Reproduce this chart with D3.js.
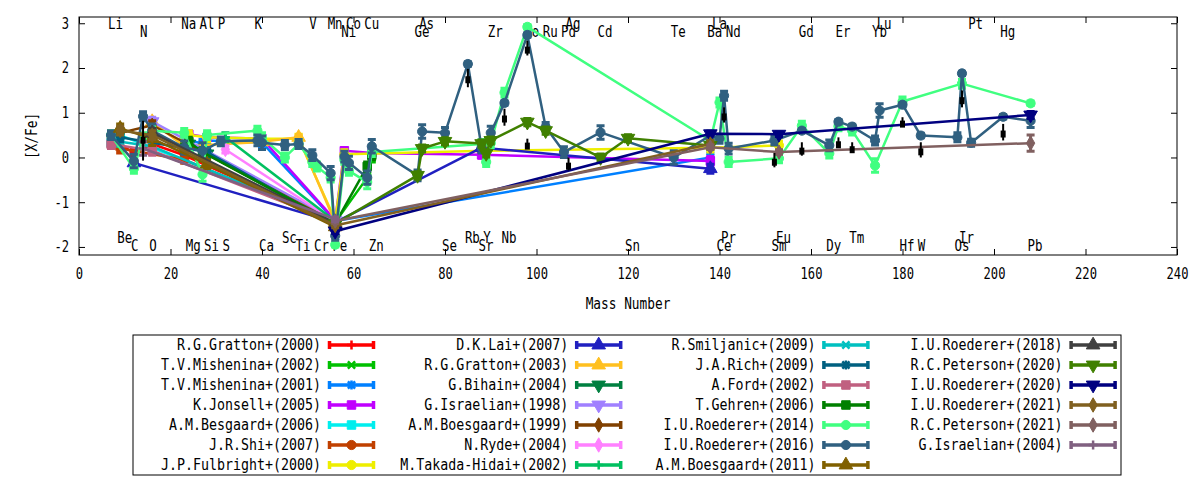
<!DOCTYPE html>
<html>
<head>
<meta charset="utf-8">
<script src="https://cdn.jsdelivr.net/npm/d3@7"></script>
<style>body{margin:0;background:#fff}</style>
</head>
<body>
<div class="chart"></div>
<script>
// element labels (isotope mass used on the x axis)
const elementNames  = ["Li","Be","C","N","O","Na","Mg","Al","Si","P","S","K","Ca","Sc","Ti","V","Cr","Mn","Fe","Co","Ni","Cu","Zn",
  "Ge","As","Se","Rb","Sr","Y","Zr","Nb","Mo","Ru","Pd","Ag","Cd","Sn","Te","Ba","La","Ce","Pr","Nd","Sm","Eu","Gd","Dy","Er","Tm","Yb","Lu",
  "Hf","W","Os","Ir","Pt","Hg","Pb"];
const elementMasses = [7,9,12,14,16,23,24,27,28,31,32,39,40,45,48,51,52,55,56,59,58,63,64,
  74,75,80,85,88,89,90,93,98,102,106,107,114,120,130,138,139,140,141,142,152,153,158,164,166,169,174,175,
  180,184,192,193,195,202,208];
const elementRows   = [0,2,3,1,3,0,3,0,3,0,3,0,3,2,3,0,3,0,3,0,1,0,3,
  1,0,3,2,3,2,1,2,1,1,1,0,1,3,1,1,0,3,2,1,3,2,1,3,1,2,1,0,
  3,3,3,2,0,1,3];
const rowValues = [3.0, 2.82, -1.8, -1.98];

const studies = ["R.G.Gratton+(2000)","T.V.Mishenina+(2002)","T.V.Mishenina+(2001)","K.Jonsell+(2005)","A.M.Besgaard+(2006)",
  "J.R.Shi+(2007)","J.P.Fulbright+(2000)","D.K.Lai+(2007)","R.G.Gratton+(2003)","G.Bihain+(2004)","G.Israelian+(1998)",
  "A.M.Boesgaard+(1999)","N.Ryde+(2004)","M.Takada-Hidai+(2002)","R.Smiljanic+(2009)","J.A.Rich+(2009)","A.Ford+(2002)",
  "T.Gehren+(2006)","I.U.Roederer+(2014)","I.U.Roederer+(2016)","A.M.Boesgaard+(2011)","I.U.Roederer+(2018)",
  "R.C.Peterson+(2020)","I.U.Roederer+(2020)","I.U.Roederer+(2021)","R.C.Peterson+(2021)","G.Israelian+(2004)"];

// [mass, [X/Fe], error]
const gratton2000 = [[7,0.42,0.05],[12,0.1,0.08],[16,0.3,0.08],[23,0.05,0.1],[56,-1.47,0.05]];
const mishenina2002 = [[56,-1.45,0.05],[63,-0.45,0.1],[64,0.0,0.1]];
const mishenina2001 = [[24,0.4,0.1],[27,0.3,0.1],[28,0.38,0.1],[40,0.33,0.1],[56,-1.42,0.05],[138,0.0,0.1]];
const jonsell2005 = [[24,0.52,0.05],[28,0.45,0.05],[40,0.42,0.05],[56,-1.4,0.05],[58,0.15,0.05],[64,0.1,0.05],[88,0.06,0.08],[138,-0.08,0.1]];
const besgaard2006 = [[7,0.33,0.08],[9,0.5,0.12],[56,-1.4,0.05]];
const shi2007 = [[9,0.2,0.1],[23,-0.05,0.08],[56,-1.47,0.05]];
const fulbright2000 = [[23,0.45,0.1],[24,0.5,0.1],[28,0.45,0.1],[40,0.42,0.1],[48,0.42,0.1],[56,-1.4,0.05],[58,0.07,0.1],[89,0.15,0.1],[138,0.22,0.1],[153,0.27,0.1]];
const lai2007 = [[12,-0.12,0.1],[56,-1.45,0.05],[88,0.22,0.1],[138,-0.25,0.1]];
const gratton2003 = [[16,0.8,0.05],[23,0.25,0.05],[40,0.35,0.05],[48,0.45,0.05],[56,-1.45,0.05]];
const bihain2004 = [[24,0.3,0.08],[28,0.08,0.08],[56,-1.5,0.05]];
const israelian1998 = [[16,0.8,0.1],[56,-1.4,0.05]];
const boesgaard1999 = [[9,0.55,0.1],[16,0.72,0.1],[56,-1.45,0.05]];
const ryde2004 = [[32,0.18,0.08],[56,-1.43,0.05]];
const takadaHidai2002 = [[32,0.45,0.1],[56,-1.42,0.05]];
const smiljanic2009 = [[9,0.35,0.1],[16,0.25,0.1],[56,-1.45,0.05]];
const rich2009 = [[9,0.45,0.1],[28,0.12,0.1],[56,-1.5,0.05]];
const ford2002 = [[7,0.3,0.1],[16,0.15,0.1],[56,-1.45,0.05]];
const gehren2006 = [[23,0.2,0.1],[24,0.35,0.1],[27,0.12,0.1],[56,-1.48,0.05],[63,-0.2,0.1],[64,0.05,0.1]];
const roederer2014 = [[7,0.5,0.1],[12,-0.25,0.1],[14,0.45,0.1],[16,0.6,0.1],[23,0.55,0.1],[27,-0.38,0.15],[28,0.5,0.1],
  [39,0.6,0.1],[40,0.45,0.1],[45,0.0,0.1],[48,0.3,0.1],[51,-0.1,0.1],[52,-0.2,0.1],[55,-0.45,0.1],[56,-1.95,0.05],
  [58,-0.05,0.1],[59,-0.3,0.1],[63,-0.55,0.15],[64,0.12,0.1],[88,0.3,0.1],[89,-0.1,0.1],[90,0.32,0.1],[93,1.45,0.1],
  [98,2.92,0.05],[138,0.38,0.1],[140,1.23,0.1],[142,-0.1,0.1],[153,-0.02,0.1],[158,0.71,0.1],[164,0.09,0.1],
  [166,0.7,0.1],[169,0.6,0.1],[174,-0.18,0.15],[180,1.25,0.1],[193,1.65,0.1],[208,1.21,0.05]];
const roederer2016 = [[7,0.5,0.1],[12,-0.08,0.15],[14,0.92,0.1],[16,0.6,0.15],[23,0.22,0.15],[27,0.15,0.18],[31,0.36,0.1],
  [39,0.38,0.12],[40,0.33,0.15],[45,0.28,0.1],[48,0.3,0.1],[51,0.05,0.12],[55,-0.35,0.15],[56,-1.75,0.1],[58,0.02,0.12],
  [59,-0.12,0.15],[63,-0.45,0.15],[64,0.25,0.15],[74,-0.4,0.12],[75,0.58,0.15],[80,0.55,0.12],[85,2.09,0.05],
  [88,0.22,0.12],[90,0.55,0.15],[93,1.22,0.05],[98,2.74,0.05],[102,0.68,0.1],[106,0.12,0.12],[114,0.56,0.15],
  [130,0.0,0.15],[138,0.49,0.1],[140,0.42,0.1],[141,1.38,0.1],[142,0.2,0.12],[152,0.38,0.1],[158,0.6,0.05],
  [164,0.27,0.12],[166,0.8,0.05],[169,0.69,0.05],[174,0.38,0.1],[175,1.05,0.15],[180,1.18,0.05],[184,0.49,0.05],
  [192,0.45,0.1],[193,1.88,0.05],[195,0.33,0.08],[202,0.91,0.05],[208,0.82,0.15]];
const boesgaard2011 = [[9,0.65,0.1],[16,0.42,0.15],[28,-0.15,0.1],[56,-1.55,0.08]];
const roederer2018 = [[16,0.55,0.1],[56,-1.48,0.05]];
const peterson2020 = [[56,-1.48,0.05],[74,-0.4,0.08],[75,0.2,0.08],[80,0.36,0.08],[88,0.31,0.08],[89,0.09,0.08],
  [90,0.38,0.08],[98,0.79,0.08],[102,0.6,0.08],[114,0.0,0.08],[120,0.43,0.08],[138,0.27,0.08]];
const roederer2020 = [[56,-1.65,0.05],[138,0.53,0.05],[153,0.52,0.05],[208,0.95,0.08]];
const roederer2021 = [[9,0.6,0.1],[16,0.5,0.1],[56,-1.52,0.05],[138,0.3,0.08]];
const peterson2021 = [[56,-1.42,0.05],[138,0.23,0.05],[153,0.12,0.05],[208,0.32,0.18]];
const israelian2004 = [[14,0.2,0.15],[56,-1.38,0.05]];

// upper limit marks of the 2016 set: [mass, top, bottom]
const limits = [[14,0.82,-0.07],[85,1.98,1.57],[93,1.09,0.71],[98,2.61,2.28],[98,0.42,0.2],[107,0.0,-0.29],
  [141,1.12,0.78],[152,0.1,-0.22],[158,0.34,0.04],[166,0.45,0.23],[169,0.34,0.12],[180,0.9,0.71],
  [184,0.34,0.0],[193,1.5,1.12],[202,0.75,0.38]];

const seriesData = [gratton2000,mishenina2002,mishenina2001,jonsell2005,besgaard2006,shi2007,fulbright2000,lai2007,
  gratton2003,bihain2004,israelian1998,boesgaard1999,ryde2004,takadaHidai2002,smiljanic2009,rich2009,ford2002,
  gehren2006,roederer2014,roederer2016,boesgaard2011,roederer2018,peterson2020,roederer2020,roederer2021,
  peterson2021,israelian2004];

const colors = ["#ff0000","#00c000","#0080ff","#c000ff","#00eeee","#c04000","#eeee00","#2020c0","#ffc020","#008040",
  "#a080ff","#804000","#ff80ff","#00c060","#00c0c0","#006080","#c06080","#008000","#40ff80","#306080",
  "#806000","#404040","#408000","#000080","#806020","#806060","#806080"];
const markerTypes = ["plus","cross","star","square","square","circle","circle","triangle","triangle",
  "itriangle","itriangle","diamond","diamond"];

const W = 1200, H = 480;
const plot = {left: 79, right: 1177, top: 17, bottom: 255};
const x = d3.scaleLinear([0, 240], [plot.left, plot.right]);
const y = d3.scaleLinear([-2.18, 3.14], [plot.bottom, plot.top]);

const svg = d3.select(".chart").append("svg")
    .attr("width", W).attr("height", H)
    .attr("viewBox", [0, 0, W, H])
    .attr("font-family", "DejaVu Sans Mono");

// gnuplot font is narrower than DejaVu Mono, so squeeze each string
function squeeze(sel, cw = 7.6) {
  sel.attr("font-size", 15).each(function() {
    const t = this.textContent;
    if (t.length) d3.select(this).attr("textLength", t.length * cw).attr("lengthAdjust", "spacingAndGlyphs");
  });
}

// element labels
svg.append("g")
  .selectAll("text")
  .data(d3.range(elementNames.length))
  .join("text")
    .attr("x", i => x(elementMasses[i]) - 3)
    .attr("y", i => y(rowValues[elementRows[i]]))
    .attr("dy", "0.36em")
    .text(i => elementNames[i])
    .call(squeeze, 7.5);

function marker(g, type, cx, cy, color) {
  const s = 4.5;
  if (type === "plus" || type === "cross" || type === "star") {
    let d = "";
    if (type !== "cross") d += `M${cx - s},${cy}H${cx + s}M${cx},${cy - s}V${cy + s}`;
    if (type !== "plus") d += `M${cx - s * 0.8},${cy - s * 0.8}L${cx + s * 0.8},${cy + s * 0.8}M${cx - s * 0.8},${cy + s * 0.8}L${cx + s * 0.8},${cy - s * 0.8}`;
    g.append("path").attr("d", d).attr("stroke", color).attr("stroke-width", 2.5).attr("fill", "none");
    return;
  }
  const sym = {square: d3.symbolSquare, circle: d3.symbolCircle, triangle: d3.symbolTriangle,
               itriangle: d3.symbolTriangle, diamond: d3.symbolDiamond}[type];
  const size = {square: 72, circle: 66, triangle: 80, itriangle: 80, diamond: 60}[type];
  g.append("path")
    .attr("d", d3.symbol(sym, size)())
    .attr("transform", `translate(${cx},${cy})${type === "itriangle" ? " rotate(180)" : ""}`)
    .attr("fill", color)
    .attr("stroke", color)
    .attr("stroke-width", 1);
}

const line = d3.line().x(d => x(d[0])).y(d => y(d[1]));

seriesData.forEach((pts, i) => {
  const c = colors[i];
  const g = svg.append("g");
  g.append("path")
    .attr("d", line(pts))
    .attr("fill", "none")
    .attr("stroke", c)
    .attr("stroke-width", 2.5)
    .attr("stroke-linejoin", "round");
  g.append("path")
    .attr("d", pts.map(([m, v, e]) => {
      const cx = x(m), y0 = y(v - e), y1 = y(v + e);
      return `M${cx},${y0}V${y1}M${cx - 4},${y0}H${cx + 4}M${cx - 4},${y1}H${cx + 4}`;
    }).join(""))
    .attr("fill", "none")
    .attr("stroke", c)
    .attr("stroke-width", 3);
  pts.forEach(([m, v]) => marker(g, markerTypes[i % 13], x(m), y(v), c));
});

// upper limit marks
const lim = svg.append("g").attr("fill", "#000").attr("stroke", "#000");
lim.selectAll("line").data(limits).join("line")
    .attr("x1", d => x(d[0])).attr("x2", d => x(d[0]))
    .attr("y1", d => y(d[1])).attr("y2", d => y(d[2]))
    .attr("stroke-width", 2);
lim.selectAll("rect").data(limits).join("rect")
    .attr("x", d => x(d[0]) - 2.5).attr("width", 5)
    .attr("y", d => y(d[1]) + (y(d[2]) - y(d[1])) * 0.4).attr("height", 7)
    .attr("stroke", "none");

// axes, gnuplot style ticks inward on all sides
const xTicks = d3.range(0, 241, 20), yTicks = d3.range(-2, 4);
function tidy(g) {
  g.attr("font-family", null).attr("font-size", null);
  g.select(".domain").remove();
  g.selectAll(".tick line").attr("stroke", "#000");
}
svg.append("g").attr("transform", `translate(0,${plot.bottom})`)
  .call(d3.axisBottom(x).tickValues(xTicks).tickSize(-6).tickPadding(13))
  .call(tidy)
  .call(g => g.selectAll("text").call(squeeze, 7.3));
svg.append("g").attr("transform", `translate(0,${plot.top})`)
  .call(d3.axisTop(x).tickValues(xTicks).tickSize(-6).tickFormat(""))
  .call(tidy);
svg.append("g").attr("transform", `translate(${plot.left},0)`)
  .call(d3.axisLeft(y).tickValues(yTicks).tickSize(-6).tickPadding(10).tickFormat(d3.format("d")))
  .call(tidy)
  .call(g => g.selectAll("text").text(d => d < 0 ? "-" + Math.abs(d) : d).call(squeeze, 7.3));
svg.append("g").attr("transform", `translate(${plot.right},0)`)
  .call(d3.axisRight(y).tickValues(yTicks).tickSize(-6).tickFormat(""))
  .call(tidy);

svg.append("rect")
  .attr("x", plot.left).attr("y", plot.top)
  .attr("width", plot.right - plot.left).attr("height", plot.bottom - plot.top)
  .attr("fill", "none").attr("stroke", "#000");

svg.append("text")
  .attr("x", (plot.left + plot.right) / 2).attr("y", 304).attr("dy", "0.36em")
  .attr("text-anchor", "middle").text("Mass Number").call(squeeze, 7.7);
svg.append("text")
  .attr("transform", `translate(32,${(plot.top + plot.bottom) / 2}) rotate(-90)`)
  .attr("dy", "0.36em").attr("text-anchor", "middle").text("[X/Fe]").call(squeeze, 7.7);

// legend
const legend = svg.append("g");
legend.append("rect")
  .attr("x", 133).attr("y", 335).attr("width", 988).attr("height", 140)
  .attr("fill", "none").attr("stroke", "#000");
studies.forEach((name, i) => {
  const col = Math.floor(i / 7), row = i % 7;
  const tx = 321 + col * 247.2, ty = 345 + row * 20;
  const c = colors[i];
  legend.append("text")
    .attr("x", tx).attr("y", ty).attr("dy", "0.36em")
    .attr("text-anchor", "end").text(name).call(squeeze, 8);
  const x0 = tx + 8.5, x1 = tx + 52.5;
  legend.append("path")
    .attr("d", `M${x0},${ty}H${x1}M${x0},${ty - 4}V${ty + 4}M${x1},${ty - 4}V${ty + 4}`)
    .attr("fill", "none").attr("stroke", c).attr("stroke-width", 3.5);
  marker(legend, markerTypes[i % 13], (x0 + x1) / 2, ty, c);
});
</script>
</body>
</html>
